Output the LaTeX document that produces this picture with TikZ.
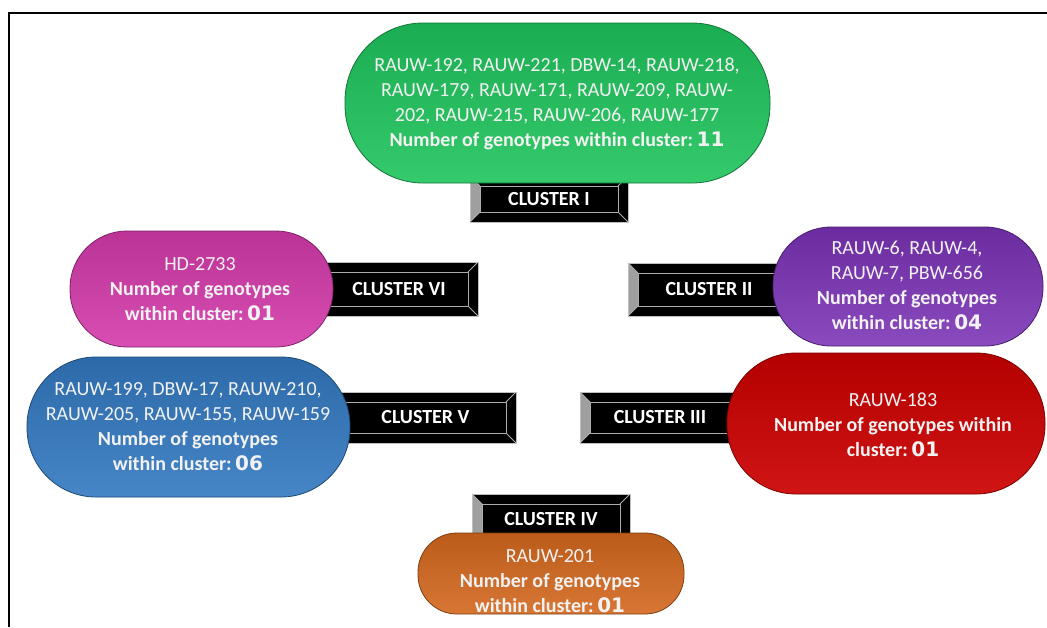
\documentclass[tikz,border=0pt]{standalone}
\usepackage{fontspec}
\setmainfont{Carlito}
\newfontfamily\numfont{DejaVu Sans}
\definecolor{cgreen}{RGB}{30,196,92}
\definecolor{cmag}{RGB}{212,58,170}
\definecolor{cpurp}{RGB}{122,50,182}
\definecolor{cblue}{RGB}{50,120,192}
\definecolor{cred}{RGB}{204,0,0}
\definecolor{corange}{RGB}{212,104,30}
\definecolor{txtw}{RGB}{242,242,242}
\newcommand{\num}[1]{\kern-2.5pt{\numfont\bfseries\fontsize{20}{24}\selectfont #1}}
\newcommand{\bevelbox}[6]{%
  \fill[black] (#2,#3) rectangle (#4,#5);
  \fill[gray!75] (#2,#3) -- ({#2+10},{#3+10}) -- ({#2+10},{#5-10}) -- (#2,#5) -- cycle;
  \draw[gray!65, line width=0.8pt] ({#2+10},{#3+10}) rectangle ({#4-10},{#5-10});
  \draw[gray!65, line width=0.8pt] (#2,#3) -- ({#2+10},{#3+10}) (#4,#3) -- ({#4-10},{#3+10})
     (#2,#5) -- ({#2+10},{#5-10}) (#4,#5) -- ({#4-10},{#5-10});
  \draw[gray!50, line width=0.6pt] (#2,#3) rectangle (#4,#5);
  \node[clab] (#1) at ({(#2+#4)/2},{(#3+#5)/2}) {#6};
}
\begin{document}
\begin{tikzpicture}[x=1pt,y=-1pt,
  pill/.style={rectangle, inner sep=0pt, line width=0.8pt},
  txt/.style={text=txtw, align=center, font=\fontsize{20}{25}\selectfont, inner sep=0pt},
  clab/.style={text=white, font=\bfseries\fontsize{20}{22}\selectfont, inner sep=0pt}]
\useasboundingbox (0,0) rectangle (1047,627);
\fill[white] (0,0) rectangle (1047,627);
\draw[black, line width=1.3pt] (1047,13) -- (9,13) -- (9,627);

% bevel boxes (drawn beneath the pills)
\bevelbox{c1}{470}{176}{628}{222}{CLUSTER I}
\bevelbox{c6}{320}{262}{478}{316}{CLUSTER VI}
\bevelbox{c2}{628}{263}{790}{316}{CLUSTER II}
\bevelbox{c5}{335}{392}{516}{443}{CLUSTER V}
\bevelbox{c3}{580}{392}{740}{443}{CLUSTER III}
\bevelbox{c4}{472}{494}{630}{545}{CLUSTER IV}

% pills
\node[pill, top color=cgreen!88!black, middle color=cgreen, bottom color=cgreen!90!white, draw=cgreen!60!black,
  minimum width=425pt, minimum height=160pt, rounded corners=78pt] (p1) at (557.5,103) {};
\node[pill, top color=cmag!88!black, middle color=cmag, bottom color=cmag!90!white, draw=cmag!60!black,
  minimum width=263pt, minimum height=116pt, rounded corners=57pt] (p6) at (201.5,289) {};
\node[pill, top color=cpurp!88!black, middle color=cpurp, bottom color=cpurp!88!white, draw=cpurp!60!black,
  minimum width=270pt, minimum height=119pt, rounded corners=58pt] (p2) at (908,286.5) {};
\node[pill, top color=cblue!88!black, middle color=cblue, bottom color=cblue!90!white, draw=cblue!60!black,
  minimum width=323pt, minimum height=140pt, rounded corners=69pt] (p5) at (188.5,427) {};
\node[pill, top color=cred!88!black, middle color=cred, bottom color=cred!92!white, draw=cred!60!black,
  minimum width=318pt, minimum height=141pt, rounded corners=69pt] (p3) at (886,423.5) {};
\node[pill, top color=corange!88!black, middle color=corange, bottom color=corange!90!white, draw=corange!60!black,
  minimum width=266pt, minimum height=81pt, rounded corners=39pt] (p4) at (551,573.5) {};

% texts
\node[txt] (t1) at (557,103.5) {RAUW-192, RAUW-221, DBW-14, RAUW-218,\\RAUW-179, RAUW-171, RAUW-209, RAUW-\\202, RAUW-215, RAUW-206, RAUW-177\\\textbf{Number of genotypes within cluster: \num{11}}};
\node[txt] (t6) at (200,289.5) {HD-2733\\\textbf{Number of genotypes}\\\textbf{within cluster: \num{01}}};
\node[txt] (t2) at (907,285.5) {RAUW-6, RAUW-4,\\RAUW-7, PBW-656\\\textbf{Number of genotypes}\\\textbf{within cluster: \num{04}}};
\node[txt] (t5) at (188,427) {RAUW-199, DBW-17, RAUW-210,\\RAUW-205, RAUW-155, RAUW-159\\\textbf{Number of genotypes}\\\textbf{within cluster: \num{06}}};
\node[txt] (t3) at (893,425) {RAUW-183\\\textbf{Number of genotypes within}\\\textbf{cluster: \num{01}}};
\node[txt] (t4) at (550,581.5) {RAUW-201\\\textbf{Number of genotypes}\\\textbf{within cluster: \num{01}}};
\end{tikzpicture}
\end{document}
